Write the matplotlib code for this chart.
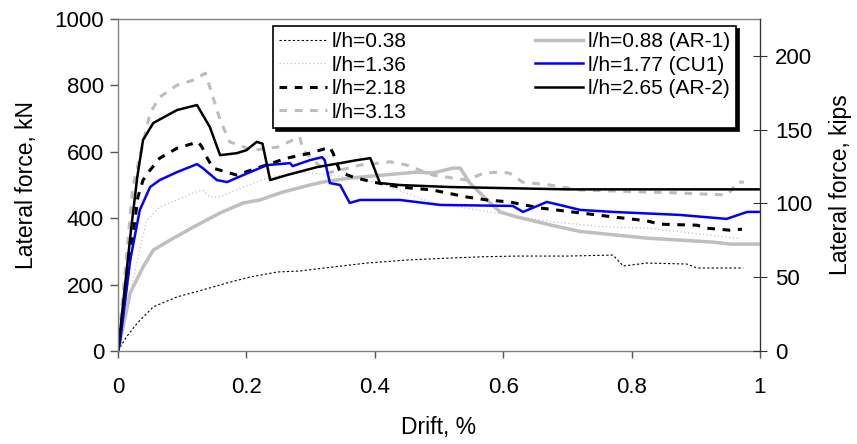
import matplotlib
matplotlib.use("Agg")
import matplotlib.pyplot as plt

plt.rcParams['font.family'] = ['Liberation Sans', 'DejaVu Sans']

KN_PER_KIP = 4.448

# drift (%) and lateral force (kN)
x038 = [0, 0.013, 0.03, 0.055, 0.092, 0.132, 0.17, 0.206, 0.248, 0.283, 0.33, 0.388, 0.45, 0.517,
        0.57, 0.621, 0.7, 0.771, 0.787, 0.824, 0.886, 0.902, 0.974]
y038 = [0, 42, 84, 133, 163, 184, 205, 223, 238, 241, 252, 265, 274, 280,
        284, 286, 286, 289, 256, 265, 262, 250, 250]

x136 = [0, 0.008, 0.03, 0.045, 0.065, 0.092, 0.117, 0.132, 0.143, 0.159, 0.195, 0.237, 0.288,
        0.35, 0.408, 0.49, 0.595, 0.678, 0.75, 0.824, 0.927, 0.969]
y136 = [0, 70, 274, 395, 434, 455, 476, 485, 464, 464, 494, 524, 539,
        525, 506, 446, 414, 389, 375, 370, 348, 338]

x218 = [0, 0.031, 0.039, 0.05, 0.065, 0.092, 0.125, 0.131, 0.139, 0.148, 0.185, 0.221, 0.263,
        0.299, 0.33, 0.335, 0.346, 0.366, 0.397, 0.439, 0.49, 0.543, 0.575, 0.61, 0.657, 0.72,
        0.771, 0.824, 0.844, 0.902, 0.917, 0.953, 0.972]
y218 = [0, 464, 515, 545, 581, 611, 630, 614, 581, 551, 530, 554, 581,
        596, 614, 596, 539, 524, 509, 494, 485, 464, 455, 449, 431, 416,
        404, 392, 382, 379, 370, 364, 367]

x313 = [0, 0.023, 0.039, 0.05, 0.065, 0.092, 0.117, 0.136, 0.143, 0.159, 0.174, 0.21, 0.248,
        0.283, 0.288, 0.326, 0.377, 0.424, 0.45, 0.49, 0.543, 0.57, 0.595, 0.61, 0.63, 0.673,
        0.72, 0.875, 0.948, 0.956, 0.964, 0.975]
y313 = [0, 494, 626, 717, 765, 801, 816, 837, 795, 696, 630, 605, 614,
        645, 605, 536, 560, 570, 560, 530, 515, 536, 539, 536, 509, 500,
        485, 476, 470, 485, 509, 509]

x088 = [0, 0.019, 0.039, 0.055, 0.081, 0.117, 0.159, 0.195, 0.221, 0.257, 0.299, 0.319, 0.361,
        0.413, 0.466, 0.49, 0.522, 0.533, 0.548, 0.575, 0.595, 0.621, 0.673, 0.72, 0.824, 0.927,
        0.953, 1.0]
y088 = [0, 175, 253, 304, 334, 373, 416, 446, 455, 479, 500, 509, 521,
        530, 539, 536, 551, 551, 506, 455, 419, 404, 380, 360, 340, 328,
        322, 322]

x177 = [0, 0.003, 0.019, 0.034, 0.05, 0.065, 0.092, 0.123, 0.132, 0.154, 0.17, 0.195, 0.232,
        0.268, 0.272, 0.299, 0.318, 0.322, 0.33, 0.346, 0.361, 0.377, 0.439, 0.502, 0.615,
        0.631, 0.668, 0.688, 0.72, 0.771, 0.875, 0.948, 0.98, 1.0]
y177 = [0, 25, 274, 425, 494, 515, 539, 563, 551, 515, 509, 530, 560,
        566, 557, 575, 584, 575, 506, 500, 446, 455, 455, 440, 437,
        419, 449, 440, 425, 419, 410, 398, 419, 419]

x265 = [0, 0.02, 0.03, 0.039, 0.055, 0.092, 0.123, 0.143, 0.159, 0.185, 0.2, 0.216, 0.225,
        0.237, 0.263, 0.31, 0.346, 0.372, 0.393, 0.408, 0.439, 0.517, 0.595, 0.699, 1.0]
y265 = [0, 360, 524, 636, 687, 726, 741, 675, 590, 596, 605, 630, 625,
        515, 530, 554, 566, 575, 581, 506, 500, 494, 491, 487, 487]

fig = plt.figure(figsize=(8.57, 4.44), dpi=100)
ax = fig.add_axes([0.1377, 0.2095, 0.7491, 0.7475])

l1, = ax.plot(x038, y038, color='black', lw=0.8, ls=(0, (2, 2)), label='l/h=0.38')
l2, = ax.plot(x136, y136, color='#c4c4c4', lw=0.9, ls=(0, (1, 2)), label='l/h=1.36')
l4, = ax.plot(x313, y313, color='#bdbdbd', lw=2.2, ls=(0, (2.5, 2.5)), label='l/h=3.13')
l5, = ax.plot(x088, y088, color='#bfbfbf', lw=2.5, label='l/h=0.88 (AR-1)')
l3, = ax.plot(x218, y218, color='black', lw=2.2, ls=(0, (2.5, 2.5)), label='l/h=2.18')
l6, = ax.plot(x177, y177, color='#0000ff', lw=1.8, label='l/h=1.77 (CU1)')
l7, = ax.plot(x265, y265, color='black', lw=1.8, label='l/h=2.65 (AR-2)')

ax.set_xlim(0, 1)
ax.set_ylim(0, 1000)
ax.set_xticks([0, 0.2, 0.4, 0.6, 0.8, 1])
ax.set_xticklabels(['0', '0.2', '0.4', '0.6', '0.8', '1'])
ax.set_yticks(range(0, 1001, 200))
ax.tick_params(axis='both', labelsize=16, color='#555555', width=1)
ax.tick_params(axis='y', direction='out', length=6, pad=4)
ax.tick_params(axis='x', direction='out', length=5, pad=14)
for s in ax.spines.values():
    s.set_color('#808080')
    s.set_linewidth(1)
ax.set_xlabel('Drift, %', fontsize=16.5, labelpad=13)
ax.set_ylabel('Lateral force, kN', fontsize=16.5, labelpad=12)

ax2 = ax.twinx()
ax2.set_ylim(0, 1000 / KN_PER_KIP)
ax2.set_yticks(range(0, 201, 50))
ax2.tick_params(axis='y', direction='inout', length=10, labelsize=16, color='#333333', pad=6)
ax2.spines['right'].set_color('#333333')
for k in ['left', 'top', 'bottom']:
    ax2.spines[k].set_visible(False)
ax2.set_ylabel('Lateral force, kips', fontsize=16.5, labelpad=12)

handles = [l1, l2, l3, l4, l5, l6, l7]
leg = ax.legend(handles=handles, labels=[h.get_label() for h in handles], ncol=2,
                loc='upper left', bbox_to_anchor=(0.2414, 0.98), fontsize=15,
                frameon=True, fancybox=False, shadow={'color': 'black', 'alpha': 1},
                edgecolor='black', handlelength=2.3, handletextpad=0.2,
                columnspacing=6.2, labelspacing=0.22, borderpad=0.3, borderaxespad=0)
leg.get_frame().set_linewidth(1.2)
leg.set_zorder(5)

fig.savefig('out.png', dpi=100)
